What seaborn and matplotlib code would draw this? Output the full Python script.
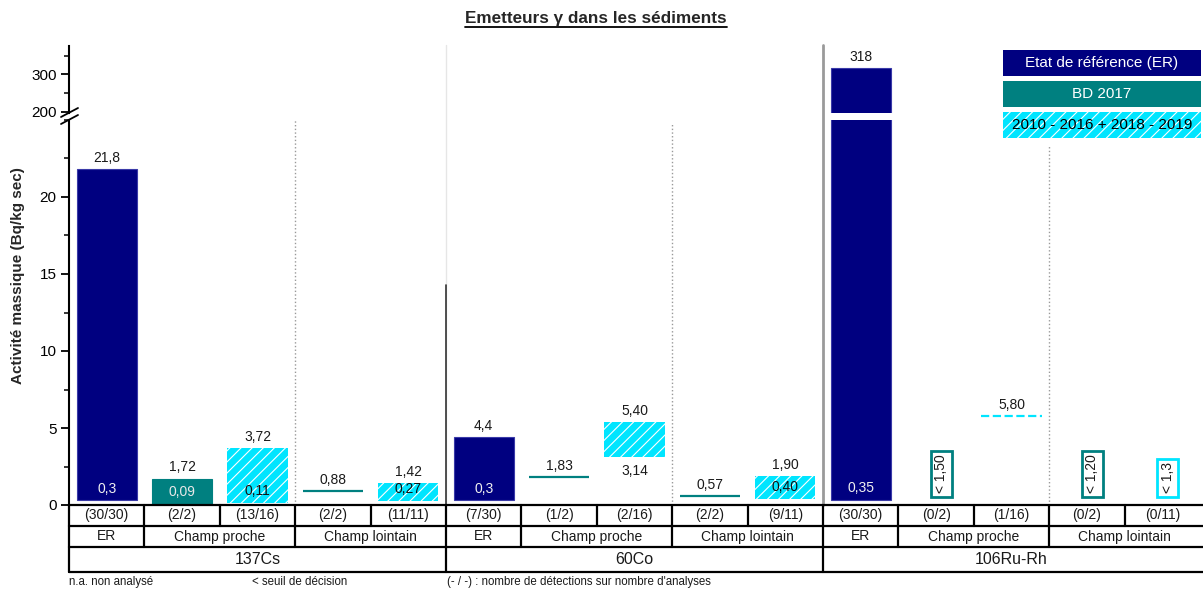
import matplotlib
matplotlib.use('Agg')
import matplotlib.pyplot as plt
import matplotlib.lines as mlines
from matplotlib.patches import Rectangle
from matplotlib.ticker import MultipleLocator
import seaborn as sns

# Data
elements = ['137Cs', '60Co', '106Ru-Rh']
zones = ['ER', 'Champ proche', 'Champ lointain']
zone_span = [1, 2, 2]
series = ['ER', 'BD', 'HIST', 'BD', 'HIST'] * 3
low = [0.3, 0.09, 0.11, 0.88, 0.27,
       0.3, 1.83, 3.14, 0.57, 0.40,
       0.35, None, 5.80, None, None]
high = [21.8, 1.72, 3.72, 0.88, 1.42,
        4.4, 1.83, 5.40, 0.57, 1.90,
        318, None, 5.80, None, None]
low_txt = ['0,3', '0,09', '0,11', '', '0,27',
           '0,3', '', '3,14', '', '0,40',
           '0,35', '', '', '', '']
high_txt = ['21,8', '1,72', '3,72', '0,88', '1,42',
            '4,4', '1,83', '5,40', '0,57', '1,90',
            '318', '', '5,80', '', '']
below_sd = {11: '< 1,50', 13: '< 1,20', 14: '< 1,3'}
counts = ['(30/30)', '(2/2)', '(13/16)', '(2/2)', '(11/11)',
          '(7/30)', '(1/2)', '(2/16)', '(2/2)', '(9/11)',
          '(30/30)', '(0/2)', '(1/16)', '(0/2)', '(0/11)']
legend_labels = {'ER': 'Etat de référence (ER)', 'BD': 'BD 2017',
                 'HIST': '2010 - 2016 + 2018 - 2019'}

colors = {'ER': '#000080', 'BD': '#008080', 'HIST': '#00e5ff'}
label_col = {'ER': '#f0f0f0', 'BD': '#e8e8e8', 'HIST': '#111111'}

sns.set_theme(style='white')
plt.rcParams['font.family'] = ['Liberation Sans', 'DejaVu Sans']
plt.rcParams['hatch.color'] = 'white'
plt.rcParams['hatch.linewidth'] = 0.8

W, H = 1203, 595
fig = plt.figure(figsize=(W / 100, H / 100), dpi=100)


def px(x0, y0, x1, y1):
    # pixel box -> figure fraction rect
    return [x0 / W, 1 - y1 / H, (x1 - x0) / W, (y1 - y0) / H]


ax_top = fig.add_axes(px(69, 46, 1200, 113))
ax = fig.add_axes(px(69, 120, 1200, 505))
tab = fig.add_axes(px(69, 505, 1200, 572))

n = len(series)
for a in (ax, ax_top):
    a.set_xlim(-0.5, n - 0.5)
    a.set_xticks([])
    for s in ['top', 'right', 'bottom']:
        a.spines[s].set_visible(False)
    a.spines['left'].set_color('black')
    a.spines['left'].set_linewidth(1.5)
    a.tick_params(axis='y', which='major', left=True, length=6, width=1.3,
                  labelsize=11, colors='black', pad=3)
    a.tick_params(axis='y', which='minor', left=True, length=3.5, width=1.3)
    a.patch.set_alpha(0)

ax.set_ylim(0, 25)
ax.yaxis.set_minor_locator(MultipleLocator(2.5))
ax.set_yticks([0, 5, 10, 15, 20])
ax_top.set_ylim(197, 376)
ax_top.set_yticks([200, 300])
ax_top.yaxis.set_minor_locator(MultipleLocator(50))

# separators (run through the axis break up to the top of the plot)
ax.plot([4.5, 4.5], [0, 29.85], color='#e6e6e6', lw=1, zorder=0, clip_on=False)
ax.plot([4.5, 4.5], [0, 14.3], color='#333333', lw=1.2, zorder=1)
ax.plot([9.5, 9.5], [0, 29.85], color='#9a9a9a', lw=2, zorder=1, clip_on=False)
ax.plot([2.5, 2.5], [0, 25], color='#999999', lw=1, ls=':', zorder=1)
ax.plot([7.5, 7.5], [0, 24.8], color='#999999', lw=1, ls=':', zorder=1)
ax.plot([12.5, 12.5], [0, 23.4], color='#999999', lw=1, ls=':', zorder=1)

# bars
for i in range(n):
    lo, hi, s = low[i], high[i], series[i]
    if lo is None:
        continue
    if hi > lo:
        for a in (ax, ax_top):
            if s == 'HIST':
                a.bar(i, hi - lo, bottom=lo, width=0.8, facecolor=colors[s],
                      edgecolor='white', hatch='///', linewidth=0, zorder=2)
            else:
                a.bar(i, hi - lo, bottom=lo, width=0.8, facecolor=colors[s],
                      edgecolor='#3a3aa8' if s == 'ER' else colors[s],
                      linewidth=0.8, zorder=2)
    else:
        ax.hlines(hi, i - 0.4, i + 0.4, color=colors[s], lw=1.6,
                  linestyles='--' if s == 'HIST' else '-', zorder=2)
    # labels
    tgt = ax_top if hi > 25 else ax
    tgt.annotate(high_txt[i], (i, hi), xytext=(0, 3), textcoords='offset points',
                 ha='center', va='bottom', fontsize=10, color='#1a1a1a')
    if low_txt[i]:
        if i == 7:
            ax.annotate(low_txt[i], (i, lo), xytext=(0, -5), textcoords='offset points',
                        ha='center', va='top', fontsize=10, color='#1a1a1a')
        else:
            ax.annotate(low_txt[i], (i, lo), xytext=(0, 3.5), textcoords='offset points',
                        ha='center', va='bottom', fontsize=10, color=label_col[s])

for i, txt in below_sd.items():
    ax.text(i + 0.07, 0.75, txt, rotation=90, ha='center', va='bottom', fontsize=10,
            color='#1a1a1a', zorder=3,
            bbox=dict(boxstyle='square,pad=0.25', fc='white',
                      ec=colors[series[i]], lw=2))

# broken axis marks
for (x0, y0, x1, y1) in [(61, 117, 78, 108), (61, 124, 78, 115)]:
    fig.add_artist(mlines.Line2D([x0 / W, x1 / W], [1 - y0 / H, 1 - y1 / H],
                                 color='black', lw=1.3))

# table
tab.set_xlim(-0.5, n - 0.5)
tab.set_ylim(67, 0)
tab.axis('off')
rows = [0, 21, 42, 67]
lw_t = 1.6
for y in rows:
    tab.plot([-0.5, n - 0.5 + 0.1], [y, y], color='black', lw=lw_t, clip_on=False)
for i in range(n):
    tab.plot([i - 0.5, i - 0.5], [0, 21], color='black', lw=lw_t, clip_on=False)
    tab.text(i, 10.5, counts[i], ha='center', va='center', fontsize=10, color='#1a1a1a')
for e, el in enumerate(elements):
    start = e * 5
    pos = start
    for z, span in zip(zones, zone_span):
        tab.plot([pos - 0.5, pos - 0.5], [21, 42], color='black', lw=lw_t, clip_on=False)
        tab.text(pos - 0.5 + span / 2, 31.5, z, ha='center', va='center',
                 fontsize=10, color='#1a1a1a')
        pos += span
    tab.plot([start - 0.5, start - 0.5], [42, 67], color='black', lw=lw_t, clip_on=False)
    tab.text(start + 2, 54.5, el, ha='center', va='center', fontsize=11.5,
             color='#1a1a1a')

# footnotes
fig.text(69 / W, 1 - 582 / H, 'n.a. non analysé', fontsize=8.3, va='center', color='#1a1a1a')
fig.text(252 / W, 1 - 582 / H, '< seuil de décision', fontsize=8.3, va='center', color='#1a1a1a')
fig.text(447 / W, 1 - 582 / H, "(- / -) : nombre de détections sur nombre d'analyses",
         fontsize=8.3, va='center', color='#1a1a1a')

# legend boxes
for (key, y0, y1) in [('ER', 50, 76), ('BD', 81, 107), ('HIST', 112, 138)]:
    r = Rectangle((1003 / W, 1 - y1 / H), 198 / W, (y1 - y0) / H,
                  transform=fig.transFigure, facecolor=colors[key],
                  edgecolor='white' if key == 'HIST' else colors[key],
                  hatch='///' if key == 'HIST' else None,
                  linewidth=0, zorder=6)
    fig.add_artist(r)
    fig.text(1102 / W, 1 - (y0 + y1) / 2 / H, legend_labels[key], ha='center',
             va='center', fontsize=11, zorder=7,
             color='black' if key == 'HIST' else 'white')

# y label and title
fig.text(18 / W, 1 - 276 / H, 'Activité massique (Bq/kg sec)', rotation=90,
         ha='center', va='center', fontsize=11, fontweight='bold')
title = fig.text(596 / W, 1 - 18 / H, 'Emetteurs γ dans les sédiments',
                 ha='center', va='center', fontsize=12.3, fontweight='bold')
fig.canvas.draw()
bb = title.get_window_extent()
fig.add_artist(mlines.Line2D([bb.x0 / W, bb.x1 / W], [(bb.y0 - 1) / H] * 2,
                             color='black', lw=1.3))

fig.savefig('out.png', dpi=100)
